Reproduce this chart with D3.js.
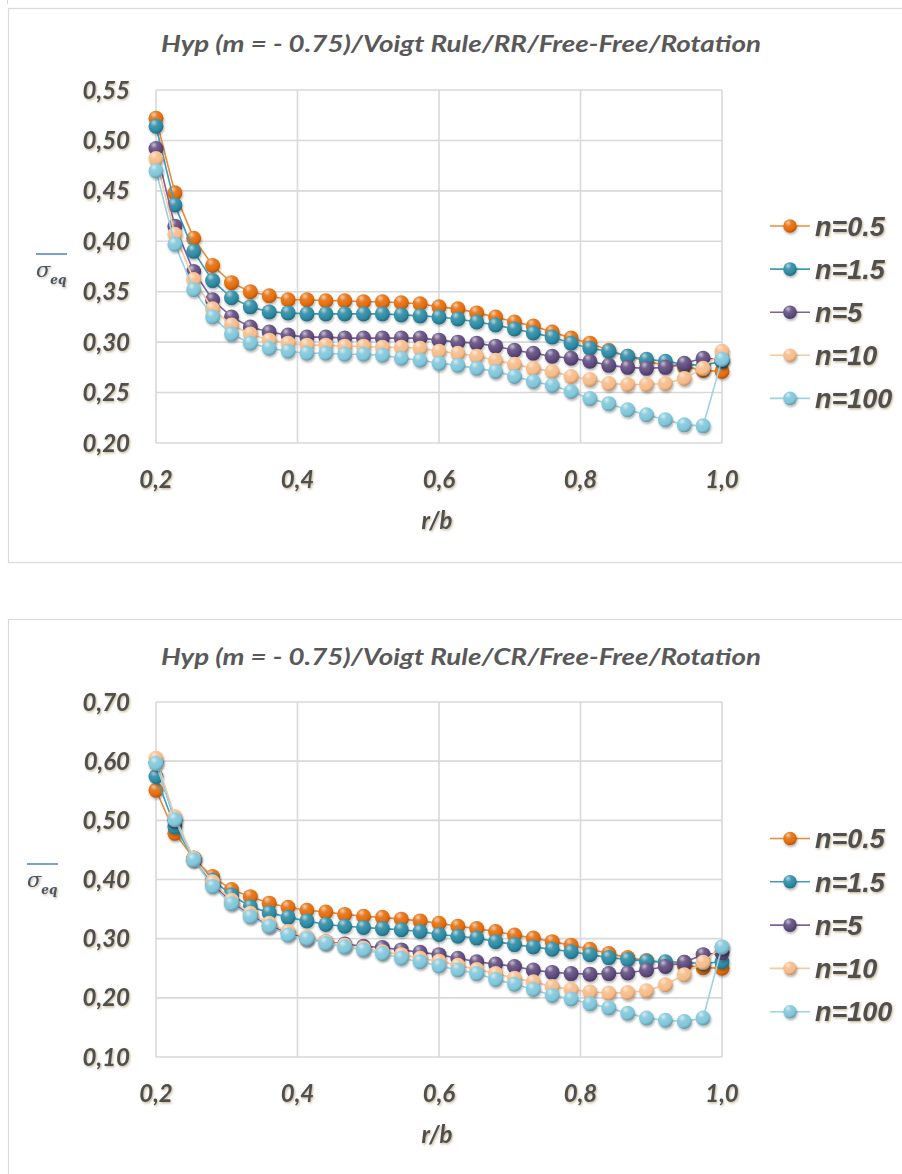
<!DOCTYPE html>
<html>
<head>
<meta charset="utf-8">
<script src="https://d3js.org/d3.v7.min.js"></script>
<style>
  body { margin: 0; background: #fff; }
</style>
</head>
<body>
<script>
// r/b positions (31 stations)
let rb = [0.2, 0.2267, 0.2533, 0.28, 0.3067, 0.3333, 0.36, 0.3867, 0.4133, 0.44, 0.4667,
          0.4933, 0.52, 0.5467, 0.5733, 0.6, 0.6267, 0.6533, 0.68, 0.7067, 0.7333,
          0.76, 0.7867, 0.8133, 0.84, 0.8667, 0.8933, 0.92, 0.9467, 0.9733, 1.0];

let seriesNames = ["n=0.5", "n=1.5", "n=5", "n=10", "n=100"];

// top chart: RR
let rrN05  = [0.522,0.448,0.403,0.376,0.359,0.350,0.346,0.342,0.342,0.341,0.341,0.340,0.340,0.339,0.338,
              0.335,0.333,0.329,0.325,0.320,0.316,0.310,0.304,0.299,0.292,0.286,0.281,0.277,0.276,0.272,0.271];
let rrN15  = [0.514,0.436,0.390,0.361,0.344,0.335,0.330,0.329,0.328,0.328,0.328,0.328,0.328,0.327,0.326,
              0.325,0.323,0.320,0.317,0.313,0.309,0.305,0.299,0.294,0.291,0.286,0.283,0.281,0.278,0.277,0.281];
let rrN5   = [0.492,0.415,0.370,0.342,0.325,0.315,0.310,0.307,0.305,0.305,0.304,0.304,0.304,0.304,0.304,
              0.302,0.300,0.299,0.296,0.292,0.289,0.286,0.284,0.281,0.277,0.275,0.274,0.275,0.279,0.284,0.283];
let rrN10  = [0.482,0.407,0.362,0.333,0.317,0.308,0.302,0.299,0.297,0.297,0.296,0.296,0.295,0.295,0.294,
              0.291,0.289,0.286,0.282,0.278,0.274,0.271,0.266,0.263,0.259,0.258,0.258,0.259,0.264,0.274,0.291];
let rrN100 = [0.470,0.397,0.352,0.325,0.308,0.299,0.294,0.291,0.289,0.289,0.288,0.288,0.287,0.284,0.282,
              0.279,0.277,0.274,0.271,0.266,0.261,0.257,0.251,0.244,0.239,0.233,0.228,0.223,0.218,0.217,0.283];

// bottom chart: CR
let crN05  = [0.551,0.478,0.436,0.405,0.383,0.371,0.360,0.353,0.348,0.345,0.341,0.338,0.336,0.333,0.330,
              0.326,0.321,0.317,0.312,0.306,0.301,0.295,0.289,0.282,0.275,0.268,0.263,0.259,0.255,0.251,0.250];
let crN15  = [0.574,0.489,0.436,0.399,0.374,0.354,0.344,0.336,0.330,0.324,0.321,0.319,0.317,0.315,0.312,
              0.307,0.304,0.301,0.295,0.290,0.286,0.282,0.278,0.273,0.268,0.265,0.262,0.261,0.260,0.258,0.261];
let crN5   = [0.598,0.500,0.436,0.392,0.362,0.340,0.322,0.310,0.300,0.295,0.291,0.287,0.285,0.281,0.277,
              0.273,0.267,0.261,0.257,0.253,0.247,0.243,0.241,0.240,0.241,0.242,0.247,0.253,0.260,0.273,0.276];
let crN10  = [0.605,0.506,0.436,0.396,0.365,0.343,0.326,0.312,0.303,0.295,0.289,0.284,0.278,0.273,0.267,
              0.262,0.255,0.248,0.241,0.233,0.227,0.219,0.214,0.210,0.208,0.209,0.212,0.222,0.239,0.260,0.286];
let crN100 = [0.596,0.501,0.433,0.388,0.359,0.337,0.321,0.306,0.300,0.292,0.286,0.281,0.275,0.267,0.261,
              0.254,0.247,0.241,0.231,0.223,0.214,0.204,0.198,0.190,0.183,0.174,0.166,0.162,0.160,0.166,0.286];

let xTicks = [0.2, 0.4, 0.6, 0.8, 1.0];
let rrTicks = [0.20, 0.25, 0.30, 0.35, 0.40, 0.45, 0.50, 0.55];
let crTicks = [0.10, 0.20, 0.30, 0.40, 0.50, 0.60, 0.70];

let markerColors = ["#E46C0A", "#2B8AA3", "#5F4A7E", "#F6BB88", "#80C6DA"];
let lineColors   = ["#F08A3A", "#3F9DB7", "#7A62A0", "#F9C89D", "#9AD3E2"];

let svg = d3.select("body").append("svg")
    .attr("width", 902)
    .attr("height", 1174);

let defs = svg.append("defs");

// soft shadow behind the labels
let tf = defs.append("filter").attr("id", "txtShadow")
    .attr("x", "-10%").attr("y", "-20%").attr("width", "130%").attr("height", "150%");
tf.append("feDropShadow").attr("dx", 1).attr("dy", 1.3)
    .attr("stdDeviation", 1).attr("flood-color", "#8a6a2a").attr("flood-opacity", 0.5);

let mf = defs.append("filter").attr("id", "ballShadow")
    .attr("x", "-50%").attr("y", "-50%").attr("width", "200%").attr("height", "200%");
mf.append("feDropShadow").attr("dx", 0.8).attr("dy", 1.8)
    .attr("stdDeviation", 1.2).attr("flood-color", "#000").attr("flood-opacity", 0.3);

// 3d sphere look for each series
markerColors.forEach(function (c, i) {
    let g = defs.append("radialGradient").attr("id", "ball" + i)
        .attr("cx", "38%").attr("cy", "30%").attr("r", "70%").attr("fx", "35%").attr("fy", "25%");
    g.append("stop").attr("offset", "0%").attr("stop-color", d3.interpolateRgb(c, "#fff")(0.65));
    g.append("stop").attr("offset", "35%").attr("stop-color", d3.interpolateRgb(c, "#fff")(0.12));
    g.append("stop").attr("offset", "75%").attr("stop-color", c);
    g.append("stop").attr("offset", "100%").attr("stop-color", d3.color(c).darker(0.7));
});

let labelFont = "Lato, 'Open Sans', sans-serif";
let textColor = "#505050";

function drawChart(cfg) {
    let g = svg.append("g");

    // chart frame
    g.append("rect")
        .attr("x", 8.5).attr("y", cfg.boxTop + 0.5)
        .attr("width", 920).attr("height", cfg.boxHeight)
        .attr("fill", "none").attr("stroke", "#D9D9D9").attr("stroke-width", 1.2);

    g.append("text")
        .attr("x", 461).attr("y", cfg.titleY)
        .attr("text-anchor", "middle")
        .attr("font-family", labelFont).attr("font-style", "italic").attr("font-weight", 700)
        .attr("font-size", 22).attr("fill", "#595959")
        .attr("textLength", 600).attr("lengthAdjust", "spacingAndGlyphs")
        .text(cfg.title);

    let x = d3.scaleLinear().domain([0.2, 1.0]).range([156, 722]);
    let y = d3.scaleLinear().domain(cfg.yDomain).range([cfg.plotBottom, cfg.plotTop]);

    // grid
    g.append("g").selectAll("line.h")
        .data(cfg.yTicks).join("line")
        .attr("x1", 156).attr("x2", 722)
        .attr("y1", d => y(d)).attr("y2", d => y(d))
        .attr("stroke", "#D9D9D9").attr("stroke-width", 1.6);
    g.append("g").selectAll("line.v")
        .data(xTicks).join("line")
        .attr("x1", d => x(d)).attr("x2", d => x(d))
        .attr("y1", cfg.plotTop).attr("y2", cfg.plotBottom)
        .attr("stroke", "#D9D9D9").attr("stroke-width", 1.6);

    let fmtY = d => d3.format(".2f")(d).replace(".", ",");
    let fmtX = d => d3.format(".1f")(d).replace(".", ",");

    let ticksG = g.append("g")
        .attr("font-family", labelFont).attr("font-style", "italic").attr("font-weight", 700)
        .attr("font-size", 24).attr("fill", textColor)
        .attr("filter", "url(#txtShadow)");

    ticksG.selectAll("text.y")
        .data(cfg.yTicks).join("text")
        .attr("x", 130).attr("y", d => y(d))
        .attr("dy", "0.36em").attr("text-anchor", "end")
        .text(fmtY);

    ticksG.selectAll("text.x")
        .data(xTicks).join("text")
        .attr("x", d => x(d)).attr("y", cfg.plotBottom + 45)
        .attr("text-anchor", "middle")
        .text(fmtX);

    ticksG.append("text")
        .attr("x", 437).attr("y", cfg.plotBottom + 86)
        .attr("text-anchor", "middle")
        .text("r/b");

    // y axis title: sigma_eq with an overbar
    g.append("line")
        .attr("x1", cfg.labX).attr("x2", cfg.labX + 31)
        .attr("y1", cfg.labY - 23).attr("y2", cfg.labY - 23)
        .attr("stroke", "#4F81BD").attr("stroke-width", 1.5);
    let lab = g.append("text")
        .attr("x", cfg.labX).attr("y", cfg.labY)
        .attr("font-family", "'DejaVu Serif', serif").attr("fill", "#44546A")
        .attr("filter", "url(#txtShadow)");
    lab.append("tspan").attr("font-size", 21).attr("font-style", "italic").text("σ");
    lab.append("tspan").attr("font-size", 12).attr("font-style", "italic").attr("font-weight", 700)
        .attr("dy", 7).text("eq");

    // series
    let line = d3.line().x((d, i) => x(rb[i])).y(d => y(d));

    cfg.series.forEach(function (vals, s) {
        g.append("path")
            .datum(vals)
            .attr("d", line)
            .attr("fill", "none")
            .attr("stroke", lineColors[s])
            .attr("stroke-width", 1.6);
        g.append("g").attr("filter", "url(#ballShadow)")
            .selectAll("circle")
            .data(vals).join("circle")
            .attr("cx", (d, i) => x(rb[i]))
            .attr("cy", d => y(d))
            .attr("r", 7.5)
            .attr("fill", "url(#ball" + s + ")");
    });

    // legend
    let leg = g.append("g").selectAll("g")
        .data(seriesNames).join("g")
        .attr("transform", (d, i) => "translate(0," + (cfg.legTop + i * cfg.legStep) + ")");
    leg.append("line")
        .attr("x1", 770).attr("x2", 810)
        .attr("stroke", (d, i) => lineColors[i]).attr("stroke-width", 1.6);
    leg.append("circle")
        .attr("cx", 790).attr("r", 6.8)
        .attr("fill", (d, i) => "url(#ball" + i + ")")
        .attr("filter", "url(#ballShadow)");
    leg.append("text")
        .attr("x", 815).attr("dy", "0.36em")
        .attr("font-family", "'Liberation Sans', Arial, sans-serif")
        .attr("font-style", "italic").attr("font-weight", 700)
        .attr("font-size", 27).attr("fill", textColor)
        .attr("filter", "url(#txtShadow)")
        .text(d => d);
}

// bit of the previous chart frame above
svg.append("line").attr("x1", 7.5).attr("x2", 7.5).attr("y1", 0).attr("y2", 4)
    .attr("stroke", "#D9D9D9");

drawChart({
    boxTop: 8, boxHeight: 554,
    title: "Hyp (m = - 0.75)/Voigt Rule/RR/Free-Free/Rotation",
    titleY: 52,
    yDomain: [0.20, 0.55], yTicks: rrTicks,
    plotTop: 90, plotBottom: 443,
    labX: 36, labY: 277,
    series: [rrN05, rrN15, rrN5, rrN10, rrN100],
    legTop: 226, legStep: 43.1
});

drawChart({
    boxTop: 619, boxHeight: 600,
    title: "Hyp (m = - 0.75)/Voigt Rule/CR/Free-Free/Rotation",
    titleY: 665,
    yDomain: [0.10, 0.70], yTicks: crTicks,
    plotTop: 702, plotBottom: 1057,
    labX: 27, labY: 887,
    series: [crN05, crN15, crN5, crN10, crN100],
    legTop: 838.5, legStep: 43.3
});
</script>
</body>
</html>
